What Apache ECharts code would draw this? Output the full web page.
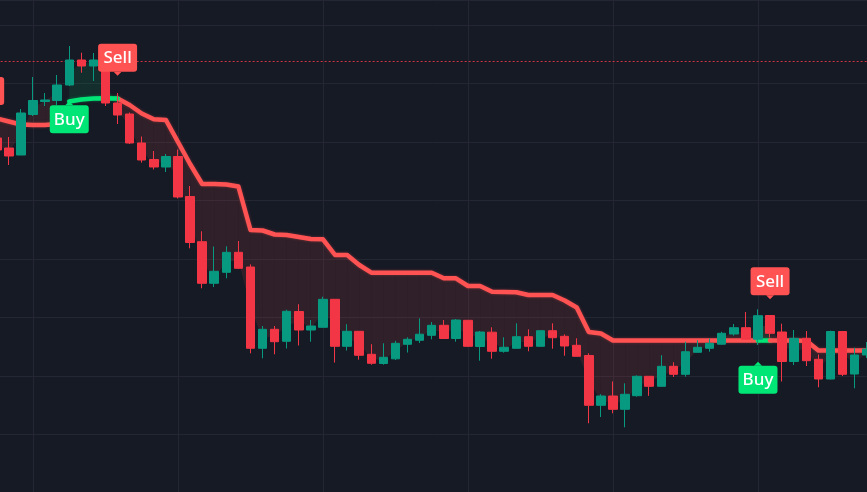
<!DOCTYPE html>
<html><head><meta charset="utf-8">
<script src="https://cdn.jsdelivr.net/npm/echarts@6/dist/echarts.min.js"></script>
<style>html,body{margin:0;padding:0;background:#161a25;}#c{width:867px;height:492px;}</style>
</head><body><div id="c"></div>
<script>
// ---- data (one entry per bar) ----
const opens  = [74.4,72.4,70.4,69,77.1,79.7,79.9,83,88,86.8,88.4,79.4,77.2,71.4,68.1,66.6,68.7,60.7,51.66,43.34,45.54,49.54,46.6,30.34,34.14,31.74,37.7,34,34.54,40.14,30.74,33.74,29.14,27.3,28.24,31.14,31.94,32.94,34.94,32.3,35.94,30.7,33.56,29.74,30.34,32.66,30.74,33.86,32.74,30.94,28.9,18.94,20.8,18.14,20.86,24.74,22.74,26.74,25.14,29.54,30.34,31.16,33.2,34.46,32.16,36.9,33.6,27.7,32.34,28.14,24.2,33.7,25.2,29];
const closes = [72,70,68.8,77.4,79.9,80,83,88,86.8,88,79.4,77,71.4,68,66.6,68.7,60.6,51.5,43.34,45.74,49.54,46.34,30.34,34.14,31.66,37.74,34,34.8,40.14,30.74,33.74,28.94,27.34,28.54,31.34,32.14,33.16,34.94,32.3,36,30.74,33.6,29.74,30.54,32.66,30.74,33.86,32.46,30.8,28.74,18.94,20.8,18.14,21.14,24.74,22.74,26.74,25.14,29.66,30.54,31.34,33.34,34.46,32.16,36.86,33.34,27.7,32.34,27.86,24.2,33.7,25.14,29,30.2];
const lows   = [71,69,67,69,76.8,78.8,79,82.8,85.46,83.8,78.8,75.2,71.2,67.46,66.1,65.6,60.3,50.34,42.34,42.6,44.34,46.2,29.34,28.34,29.14,30.3,30.9,31.66,34.5,27.5,29.9,28.06,27.06,27.06,28,29.5,31.4,32.14,32.2,31.66,30.6,27.86,28.26,29.46,30.3,29.74,30.7,30.26,28.86,28.7,15.34,16.6,17.34,14.54,20.66,20.84,22.7,24.6,24.66,29.5,29.66,31.1,32.86,32.1,31,32.5,23.7,27,26.8,22.54,24.14,24.8,22.34,28.4];
const highs  = [76,73.6,72.6,78.2,84.6,81.4,85,90.8,89.46,89.4,88.8,81.4,77.5,72.7,69.8,69.2,70.1,62.8,53.74,50.7,50.74,51.8,47.14,34.8,34.8,38.06,39.16,36,40.66,40.2,35.16,33.8,31.16,31.34,31.84,32.54,36.34,35.6,36,36.2,36,33.8,34.54,32.54,35.34,34.14,33.9,35.34,33.14,32.34,29.34,21.16,23.7,23.34,24.94,24.8,28.96,27.56,31.66,31.94,32.3,33.64,35.2,37.6,38.14,37,35.26,34,33.8,29.1,33.86,33.8,30.46,31.6];
// supertrend: uptrend (green) and downtrend (red) values, null where not active
const upLine   = [null,null,null,null,null,null,null,79.7,80.1,80.3,80.34,80.3,null,null,null,null,null,null,null,null,null,null,null,null,null,null,null,null,null,null,null,null,null,null,null,null,null,null,null,null,null,null,null,null,null,null,null,null,null,null,null,null,null,null,null,null,null,null,null,null,null,null,null,null,31.9,31.9,null,null,null,null,null,null,null,null];
const downLine = [76.8,76.3,75.7,75.1,75,75,75.2,null,null,null,null,80.3,79,77.3,76.14,76,71.6,67.2,63.2,63.2,63.1,62.7,54,53.9,53.1,53,52.6,52.2,52.14,49,49,47,45.46,45.46,45.46,45.46,45.46,45.46,44.34,44.34,42.8,42.8,41.66,41.6,41.54,41,41,41,39.9,38.5,33.6,33.3,31.9,31.9,31.9,31.9,31.9,31.9,31.9,31.9,31.9,31.9,31.9,31.9,31.9,31.9,31.9,31.9,31.86,29.9,29.9,29.9,29.9,29.9];
// signals (bar index, price of label tip)
const sellBars = [0, 11, 65];
const sellPrices = [78.2, 84.86, 40.14];
const buyBars = [7, 64];
const buyPrices = [79.74, 27.66];
const priceLine = 87.8;

const categories = opens.map((_, i) => String(i + 1));
const N = opens.length;
const mids = opens.map((o, i) => (o + closes[i]) / 2);
const candleData = opens.map((o, i) => [o, closes[i], lows[i], highs[i]]);
const toSeries = (arr, from, to) => arr.map((v, i) => (v == null || i < from || i > to) ? '-' : v);

const fillData = [];
for (let i = 0; i < N - 1; i++) {
  if (downLine[i] != null && downLine[i + 1] != null) fillData.push([i, downLine[i], mids[i], downLine[i + 1], mids[i + 1], 0]);
  if (upLine[i] != null && upLine[i + 1] != null) fillData.push([i, upLine[i], mids[i], upLine[i + 1], mids[i + 1], 1]);
}
const labelData = sellBars.map((b, i) => [b, sellPrices[i], 0]).concat(buyBars.map((b, i) => [b, buyPrices[i], 1]));

const RED_LINE = '#ff5252', GREEN_LINE = '#00e676';
const chart = echarts.init(document.getElementById('c'), null, {renderer: 'canvas'});
const lineStyleOf = (c) => ({color: c, width: 4.5, cap: 'round', join: 'round', shadowColor: c === RED_LINE ? 'rgba(255,82,82,0.35)' : 'rgba(0,230,118,0.35)', shadowBlur: 3});

chart.setOption({
  animation: false,
  backgroundColor: '#161a25',
  grid: {left: -15.33, right: 0.27, top: 0, bottom: -0.73, containLabel: false, outerBoundsMode: 'none'},
  xAxis: {
    type: 'category', data: categories, boundaryGap: false,
    axisLine: {show: false}, axisTick: {show: false}, axisLabel: {show: false},
    splitLine: {show: true, interval: (i) => (i - 4) % 12 === 0, lineStyle: {color: '#242733', width: 1}}
  },
  yAxis: {
    type: 'value', min: 1.454, max: 100, interval: 11.686, scale: true,
    axisLine: {show: false}, axisTick: {show: false}, axisLabel: {show: false},
    splitLine: {show: true, lineStyle: {color: '#242733', width: 1}}
  },
  series: [
    {
      type: 'custom', name: 'fill', z: 1, silent: true,
      data: fillData,
      renderItem: (params, api) => {
        const i = api.value(0);
        const p1 = api.coord([i, api.value(1)]);
        const p2 = api.coord([i + 1, api.value(3)]);
        const p3 = api.coord([i + 1, api.value(4)]);
        const p4 = api.coord([i, api.value(2)]);
        return {type: 'polygon', shape: {points: [p1, p2, p3, p4]},
          style: {fill: api.value(5) === 1 ? 'rgba(0,230,118,0.10)' : 'rgba(255,82,82,0.11)', stroke: null}};
      }
    },
    {
      type: 'line', name: 'price', z: 1, data: [], silent: true,
      markLine: {silent: true, symbol: ['none', 'none'], label: {show: false},
        lineStyle: {type: [2, 2], color: 'rgba(242,54,69,0.85)', width: 1},
        data: [{yAxis: priceLine}]}
    },
    {type: 'line', name: 'downA', z: 3, data: toSeries(downLine, 0, 64), symbol: 'none', lineStyle: lineStyleOf(RED_LINE), silent: true},
    {type: 'line', name: 'up', z: 4, data: toSeries(upLine, 0, N), symbol: 'none', lineStyle: lineStyleOf(GREEN_LINE), silent: true},
    {type: 'line', name: 'downB', z: 5, data: toSeries(downLine, 65, N), symbol: 'none', lineStyle: lineStyleOf(RED_LINE), silent: true},
    {
      type: 'candlestick', name: 'k', z: 6, data: candleData, barWidth: 9,
      itemStyle: {color: '#089981', color0: '#f23645', borderColor: '#089981', borderColor0: '#f23645', borderWidth: 1}
    },
    {
      type: 'custom', name: 'signals', z: 10, silent: true, data: labelData,
      renderItem: (params, api) => {
        const p = api.coord([api.value(0), api.value(1)]);
        const isSell = api.value(2) === 0;
        const w = 39, h = 28, t = 4;
        const color = isSell ? '#ff5252' : '#00e676';
        const boxY = isSell ? p[1] - t - h : p[1] + t;
        const tri = isSell ? [[p[0] - 4, p[1] - t], [p[0] + 4, p[1] - t], [p[0], p[1]]]
                           : [[p[0] - 4, p[1] + t], [p[0] + 4, p[1] + t], [p[0], p[1]]];
        return {type: 'group', children: [
          {type: 'rect', shape: {x: p[0] - w / 2, y: boxY, width: w, height: h, r: 3}, style: {fill: color}},
          {type: 'polygon', shape: {points: tri}, style: {fill: color}},
          {type: 'text', style: {text: isSell ? 'Sell' : 'Buy', x: p[0], y: boxY + h / 2 + 0.5, align: 'center', verticalAlign: 'middle',
            fill: '#ffffff', font: '500 17px "Noto Sans"'}}
        ]};
      }
    }
  ]
});
</script></body></html>
